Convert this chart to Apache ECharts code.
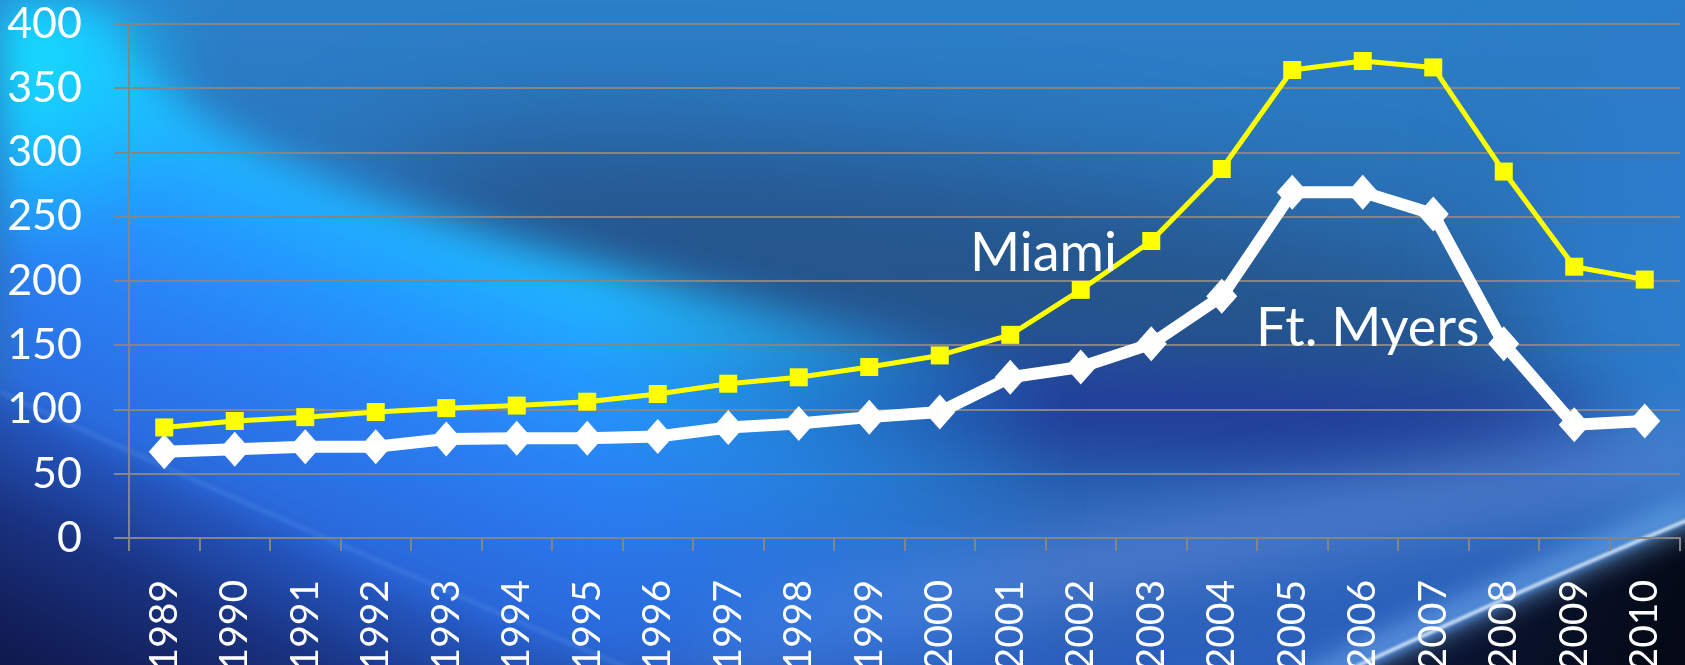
<!DOCTYPE html>
<html>
<head>
<meta charset="utf-8">
<title>Home prices: Miami vs Ft. Myers</title>
<script src="https://cdn.jsdelivr.net/npm/echarts@6/dist/echarts.min.js"></script>
<style>
  html, body { margin: 0; padding: 0; background: #1d3f8a; overflow: hidden; }
  #chart { width: 1685px; height: 665px; }
</style>
</head>
<body>
<div id="chart"></div>
<script>
// ---- data ----
const years = ['1989','1990','1991','1992','1993','1994','1995','1996','1997','1998','1999',
               '2000','2001','2002','2003','2004','2005','2006','2007','2008','2009','2010'];
const miami   = [86, 91, 94, 98, 101, 103, 106, 112, 120, 125, 133,
                 142, 158, 193, 231, 287, 364, 371, 366, 285, 211, 201];
const ftMyers = [67, 69, 71, 71, 77, 77.5, 77.5, 79, 86, 89, 94,
                 98, 125, 133, 151, 188, 269, 269, 252, 151, 88, 91];
const yTicks  = { min: 0, max: 400, step: 50 };

const W = 1685, H = 665;

// ---- soft blue backdrop painted once into an offscreen canvas ----
function paintBackdrop(w, h) {
  const cv = document.createElement('canvas');
  cv.width = w; cv.height = h;
  const g = cv.getContext('2d');

  const base = g.createLinearGradient(0, 0, 0, h);
  base.addColorStop(0, '#2b80ca');
  base.addColorStop(0.4, '#2a6fb4');
  base.addColorStop(1, '#2b5fbc');
  g.fillStyle = base;
  g.fillRect(0, 0, w, h);

  // slate shadow through the middle
  g.filter = 'blur(60px)';
  g.fillStyle = '#25548a';
  g.beginPath(); g.ellipse(1000, 285, 620, 105, 0.15, 0, Math.PI * 2); g.fill();

  // brighter right edge
  g.fillStyle = '#2c7ccc';
  g.beginPath(); g.ellipse(1700, 260, 160, 260, 0, 0, Math.PI * 2); g.fill();

  // deep blue band, lower right
  g.filter = 'blur(35px)';
  g.fillStyle = '#213898';
  g.beginPath(); g.ellipse(1150, 412, 470, 42, 0.04, 0, Math.PI * 2); g.fill();

  // light haze band crossing the lower middle
  g.filter = 'blur(30px)';
  g.strokeStyle = 'rgba(85,130,210,0.75)';
  g.lineWidth = 70;
  g.beginPath(); g.moveTo(700, 640); g.quadraticCurveTo(1200, 540, 1720, 450); g.stroke();

  // bright sweep under a curved upper edge, fading out to the right
  const t = document.createElement('canvas');
  t.width = w; t.height = h;
  const s = t.getContext('2d');
  const sweep = s.createLinearGradient(420, 205, 290, 540);
  sweep.addColorStop(0, '#1fbcff');
  sweep.addColorStop(0.25, '#229cff');
  sweep.addColorStop(0.55, '#2a80f4');
  sweep.addColorStop(1, '#2a66d8');
  s.fillStyle = sweep;
  s.beginPath();
  s.moveTo(95, -20);
  s.bezierCurveTo(140, 170, 500, 260, 1300, 420);
  s.lineTo(1300, 720); s.lineTo(-60, 720); s.lineTo(-60, -20);
  s.closePath(); s.fill();
  const corner = s.createRadialGradient(0, 60, 10, 0, 60, 210);
  corner.addColorStop(0, '#14e0ff');
  corner.addColorStop(1, 'rgba(20,200,255,0)');
  s.fillStyle = corner;
  s.fillRect(0, 0, 400, 400);
  s.globalCompositeOperation = 'destination-in';
  const fade = s.createLinearGradient(0, 0, w, 0);
  fade.addColorStop(0, 'rgba(0,0,0,1)');
  fade.addColorStop(0.35, 'rgba(0,0,0,1)');
  fade.addColorStop(0.63, 'rgba(0,0,0,0)');
  fade.addColorStop(1, 'rgba(0,0,0,0)');
  s.fillStyle = fade;
  s.fillRect(0, 0, w, h);
  g.filter = 'blur(20px)';
  g.drawImage(t, 0, 0);

  // dark navy lower-left corner below a faint streak
  g.filter = 'blur(14px)';
  const navy = g.createLinearGradient(200, 490, 60, 780);
  navy.addColorStop(0, 'rgba(34,80,180,0.6)');
  navy.addColorStop(0.3, '#1a3484');
  navy.addColorStop(0.65, '#111d56');
  navy.addColorStop(1, '#0a1238');
  g.fillStyle = navy;
  g.beginPath();
  g.moveTo(-60, 365); g.lineTo(400, 590); g.lineTo(720, 720); g.lineTo(-60, 720);
  g.closePath(); g.fill();

  g.filter = 'blur(2px)';
  g.strokeStyle = 'rgba(120,175,245,0.45)';
  g.lineWidth = 2;
  g.beginPath(); g.moveTo(0, 392); g.quadraticCurveTo(300, 530, 680, 690); g.stroke();

  // dark corner, bottom right, under a bright arc
  g.filter = 'blur(5px)';
  const dark = g.createLinearGradient(1500, 600, 1650, 680);
  dark.addColorStop(0, '#0a1430');
  dark.addColorStop(1, '#040915');
  g.fillStyle = dark;
  g.beginPath();
  g.moveTo(1320, 690); g.quadraticCurveTo(1530, 590, 1700, 518);
  g.lineTo(1700, 700); g.closePath(); g.fill();

  g.filter = 'blur(14px)';
  g.strokeStyle = 'rgba(130,190,250,0.65)';
  g.lineWidth = 24;
  g.beginPath(); g.moveTo(1300, 688); g.quadraticCurveTo(1525, 580, 1700, 510); g.stroke();
  g.filter = 'blur(1.5px)';
  g.strokeStyle = '#e8f6ff';
  g.lineWidth = 3;
  g.beginPath(); g.moveTo(1310, 688); g.quadraticCurveTo(1528, 586, 1700, 515); g.stroke();

  g.filter = 'none';
  return cv;
}

const chart = echarts.init(document.getElementById('chart'), null, { renderer: 'canvas', width: W, height: H });

const gridColor = '#858585';
const font = 'Lato';

chart.setOption({
  backgroundColor: { image: paintBackdrop(W, H), repeat: 'no-repeat' },
  animation: false,
  grid: { left: 129, right: 5, top: 23.7, bottom: 127, containLabel: false, outerBoundsMode: 'none' },
  xAxis: {
    type: 'category',
    data: years,
    boundaryGap: true,
    axisLine: { lineStyle: { color: gridColor, width: 2 } },
    axisTick: { show: true, length: 13, lineStyle: { color: gridColor, width: 2 } },
    axisLabel: {
      rotate: 90, margin: 42, color: '#ffffff',
      fontFamily: font, fontSize: 39, interval: 0
    },
    splitLine: { show: false }
  },
  yAxis: {
    type: 'value',
    min: yTicks.min, max: yTicks.max, interval: yTicks.step,
    axisLine: { show: true, lineStyle: { color: gridColor, width: 2 } },
    axisTick: { show: true, length: 15, lineStyle: { color: gridColor, width: 2 } },
    axisLabel: { margin: 47, color: '#ffffff', fontFamily: font, fontSize: 43 },
    splitLine: { show: true, lineStyle: { color: gridColor, width: 2 } }
  },
  series: [
    {
      name: 'Ft. Myers',
      type: 'line',
      data: ftMyers,
      symbol: 'diamond',
      symbolSize: [31, 35],
      itemStyle: { color: '#ffffff' },
      lineStyle: { color: '#ffffff', width: 12 },
      z: 3
    },
    {
      name: 'Miami',
      type: 'line',
      data: miami,
      symbol: 'rect',
      symbolSize: 18,
      itemStyle: { color: '#ffff00' },
      lineStyle: { color: '#ffff00', width: 5 },
      z: 4
    }
  ],
  graphic: [
    {
      type: 'text', x: 970, y: 254,
      style: { text: 'Miami', fill: '#ffffff', font: '54px Lato', verticalAlign: 'middle' },
      z: 10
    },
    {
      type: 'text', x: 1256, y: 329,
      style: { text: 'Ft. Myers', fill: '#ffffff', font: '54px Lato', verticalAlign: 'middle' },
      z: 10
    }
  ]
});
</script>
</body>
</html>
